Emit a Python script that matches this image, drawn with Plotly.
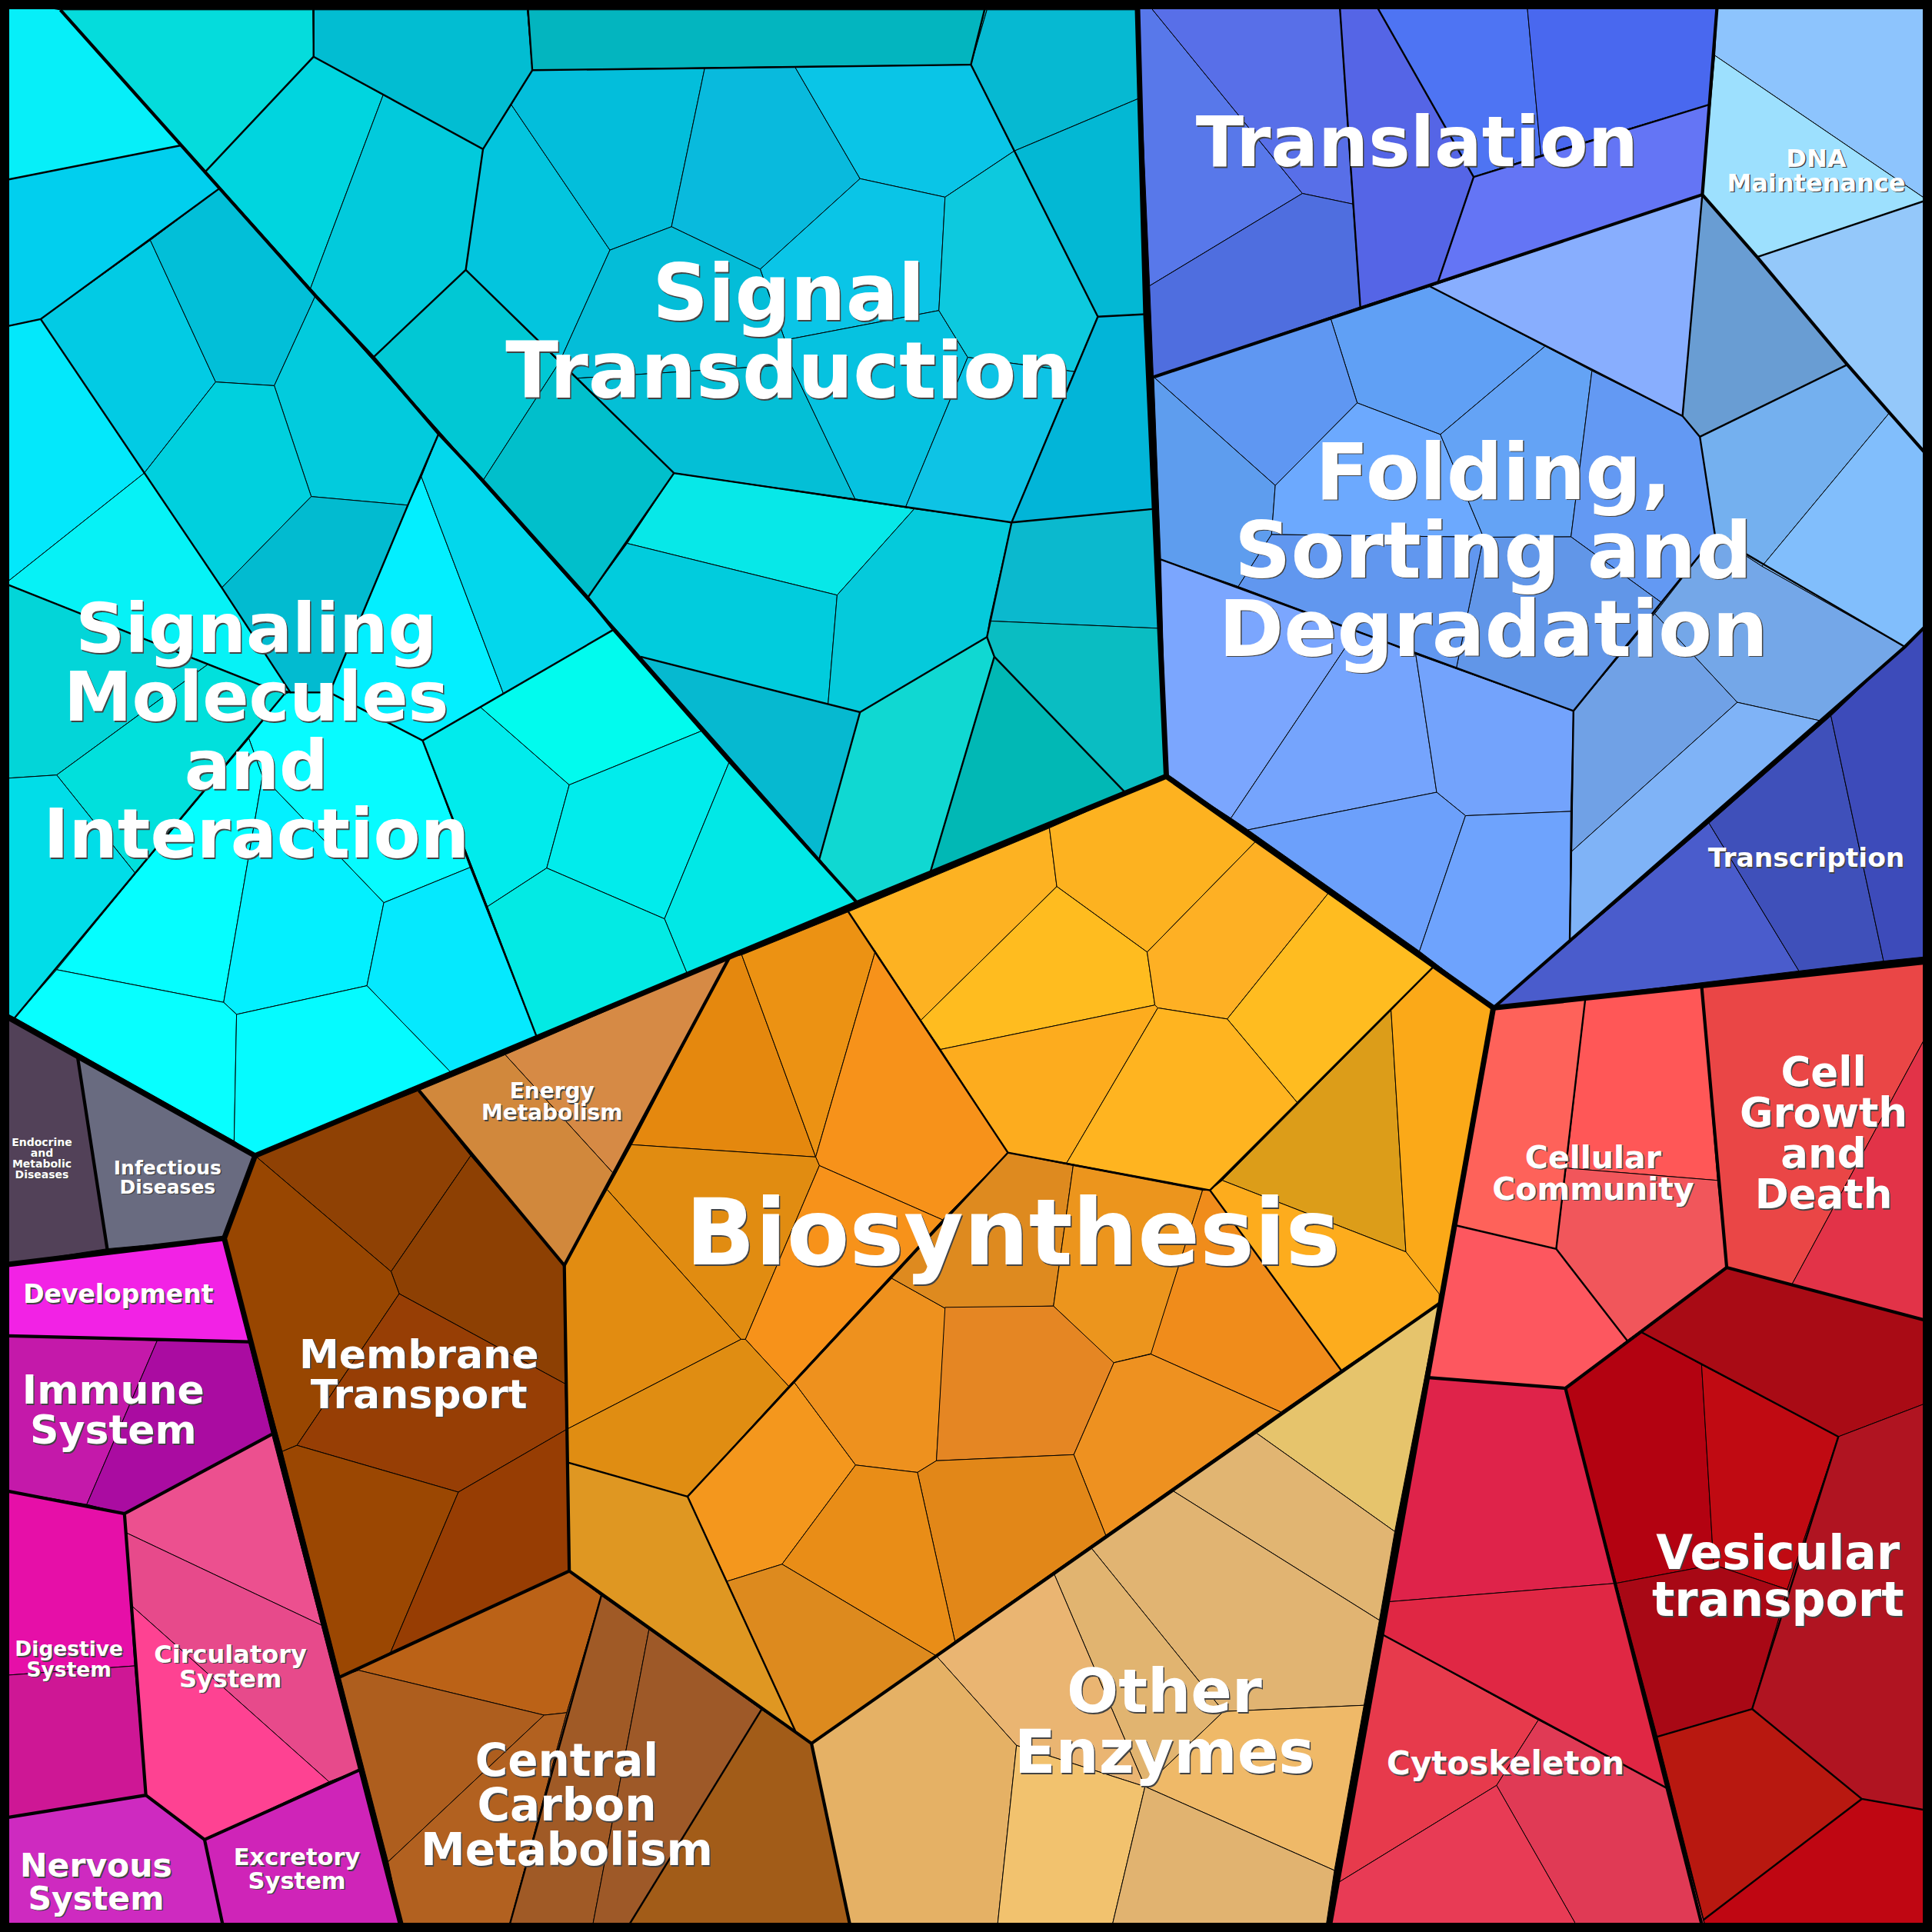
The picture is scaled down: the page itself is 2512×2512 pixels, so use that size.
import plotly.graph_objects as go

# proteomap of KEGG pathways, vertices (display units, 1568 = full width)
SIZE = 1568

signal_cells = [
    [(49,8),(254,8),(254.5,46),(167,139)],
    [(254,8),(428,8),(432,57),(392,121),(311,77),(254.5,46)],
    [(428,8),(801,8),(788,52.5),(432,57)],
    [(801,8),(924,8),(924,80),(823,122.6),(788,52.5)],
    [(823,122.6),(924,80),(930,255),(891,257)],
    [(891,257),(930,255),(937,413),(821,424)],
    [(254.5,46),(311,77),(252,234),(167,139)],
    [(311,77),(392,121),(378,219),(303,290),(252,234)],
    [(392,121),(415,85),(495,203),(454,294),(378,219)],
    [(378,219),(454,294),(392,390),(303,290)],
    [(454,294),(547,384),(477,485),(392,390)],
    [(432,57),(572,55),(545,184),(495,203),(415,85)],
    [(572,55),(645,54),(698,145),(617,218.5),(545,184)],
    [(645,54),(788,52.5),(823,122.6),(767,160),(698,145)],
    [(698,145),(767,160),(762,252),(637,276),(617,218.5)],
    [(495,203),(545,184),(617,218.5),(637,276),(642,296),(468,307),(454,294)],
    [(468,307),(642,296),(694,405),(547,384)],
    [(637,276),(762,252),(785.4,290),(735,411.5),(694,405),(642,296)],
    [(762,252),(767,160),(823,122.6),(891,257),(872,301.6),(785.4,290)],
    [(785.4,290),(872,301.6),(821,424),(735,411.5)],
    [(547,384),(742,413),(679.4,483),(509,441)],
    [(477,485),(509,441),(679.4,483),(672,572),(520,533)],
    [(742,413),(821,424),(801,517),(698,578),(672,572),(679.4,483)],
    [(821,424),(937,413),(942,510),(803,504)],
    [(803,504),(942,510),(947,628),(913,643),(807,533),(801,517)],
    [(698,578),(801,517),(807,533),(755,708),(696,733),(665,697)],
    [(807,533),(913,643),(755,708)],
    [(520,533),(698,578),(665,697)],
]
signal_colors = [
    "#05DCDC","#02BDD2","#03B5BF","#06B9D2","#03B8D4","#02B5D8","#00D5DF","#02CADC","#03C5DE","#01C8D4",
    "#01BFCB","#03BEDB","#09BADD","#0AC5E7","#0AC5E7","#04BDD8","#04BFD6","#06C2E0","#0DC9DE","#0EC3E5",
    "#07E8E8","#01CCDD","#05CADB","#0BB9CE","#0ABDC2","#10D8D2","#01B8B5","#06B9D0",
]

signaling_cells = [
    [(0,0),(49,8),(147,118),(0,147)],
    [(0,147),(147,118),(178,153),(33,259),(0,266)],
    [(33,259),(122,195),(175,310),(117,384)],
    [(122,195),(178,153),(256,240),(222.6,313),(175,310)],
    [(256,240),(356,352),(331,410),(252.6,403),(222.6,313)],
    [(175,310),(222.6,313),(252.6,403),(180,477),(117,384)],
    [(252.6,403),(331,410),(267.5,562),(235.7,562),(180,477)],
    [(0,266),(33,259),(117,384),(0,477)],
    [(0,477),(117,384),(180,477),(235.7,562),(210,555.5),(0,472)],
    [(0,472),(169,539),(46,629),(0,632)],
    [(169,539),(210,555.5),(231,563),(110,709),(46,629)],
    [(0,632),(46,629),(110,709),(46,787),(12,826),(0,820)],
    [(231,563),(235.7,562),(267.5,562),(343,601),(381.5,704),(311.5,732.6),(213,630),(202,599.4)],
    [(202,599.4),(213,630),(181.5,813.5),(46,787),(110,709)],
    [(213,630),(311.5,732.6),(297.8,800),(192,823.3),(181.5,813.5)],
    [(311.5,732.6),(381.5,704),(435.4,841),(365.6,870),(297.8,800)],
    [(46,787),(181.5,813.5),(192,823.3),(190,926),(12,826)],
    [(192,823.3),(297.8,800),(365.6,870),(207,938),(190,926)],
    [(331,410),(342,387),(408.6,563),(343,601),(267.5,562)],
    [(342,387),(356,352),(498,511),(408.6,563)],
    [(343,601),(390,574),(462,637),(443.7,704.5),(395.6,735.8)],
    [(390,574),(498,511),(570,593),(462,637)],
    [(462,637),(570,593),(592,618),(539.3,745.7),(443.7,704.5)],
    [(592,618),(696,733),(557.6,790),(539.3,745.7)],
    [(395.6,735.8),(443.7,704.5),(539.3,745.7),(557.6,790),(435.4,841)],
]
signaling_colors = [
    "#06EFF9","#01CFEE","#02CBE4","#02BFD8","#02CBDD","#00D0DE","#02BBD0","#03E8FB","#06F2F6","#03D5D8",
    "#01E0DC","#01DDE8","#07FBFF","#05FEFF","#03F0FF","#05E9FE","#07FFFF","#05FBFF","#03EFFF","#03D7EC",
    "#01EBEC","#01FBEE","#01ECEC","#01E8E6","#03EAE4",
]

translation_cells = [
    [(923,0),(929,0),(1057,157),(933,232)],
    [(929,0),(1087,0),(1098,165.6),(1057,157)],
    [(933,232),(1057,157),(1098,165.6),(1104,249),(936,306)],
    [(1087,0),(1114.4,0),(1196,143.6),(1167,229),(1104,249)],
    [(1114.4,0),(1239,0),(1250.6,126),(1196,143.6)],
    [(1239,0),(1394,0),(1387,85),(1250.6,126)],
    [(1196,143.6),(1250.6,126),(1387,85),(1381.6,158),(1167,229)],
]
translation_colors = ["#5878EA","#586FE8","#4F6EDF","#5565E6","#4E74F3","#4968EF","#6475F5"]

dna_cells = [
    [(1394,0),(1568,0),(1568,165),(1391.7,45)],
    [(1391.7,45),(1568,165),(1426,208.6),(1381.6,158)],
    [(1568,161),(1568,374),(1533.5,335),(1499.3,296),(1426,208.6)],
]
dna_colors = ["#8DC4FD","#9DE0FE","#94C8FA"]

folding_cells = [
    [(1160.7,232.5),(1381.6,158),(1365.5,337.6),(1292,301),(1254,281)],
    [(1381.6,158),(1426,208.6),(1499.3,296),(1379.6,354.5),(1365.5,337.6)],
    [(1379.6,354.5),(1499.3,296),(1533.5,335),(1430,459.6),(1392,435)],
    [(1533.5,335),(1568,374),(1568,503),(1546,525),(1430,459.6)],
    [(1080,258.6),(1160.7,232.5),(1254,281),(1169,352.6),(1101.5,327)],
    [(936.3,306),(1080,258.6),(1101.5,327),(1035,394)],
    [(936.3,306),(1035,394),(1032,433.8),(1005,476),(942,454)],
    [(1035,394),(1101.5,327),(1169,352.6),(1204,436),(1032,433.8)],
    [(1169,352.6),(1254,281),(1292,301),(1275,435.7),(1204,436)],
    [(1292,301),(1365.5,337.6),(1379.6,354.5),(1392,435),(1349.4,489.7),(1275,435.7)],
    [(1204,436),(1275,435.7),(1349.4,489.7),(1277,577),(1182,542)],
    [(1032,433.8),(1204,436),(1182,542),(1005,476)],
    [(942,454),(1101,512),(999,664),(946.6,630)],
    [(1101,512),(1149,531),(1166,643),(1012.9,673.5),(999,664)],
    [(1149,531),(1277,577),(1274.8,658.5),(1189.4,662),(1166,643)],
    [(1012.9,673.5),(1166,643),(1189.4,662),(1152,772)],
    [(1189.4,662),(1274.8,658.5),(1274,764),(1212,818),(1152,772)],
    [(1343,498),(1410,570),(1275.6,691),(1277,577)],
    [(1392,435),(1430,459.6),(1546,525),(1477.5,585),(1410,570),(1343,498)],
    [(1410,570),(1477.5,585),(1274,764),(1275.6,691)],
]
folding_colors = [
    "#88AEFE","#699DD3","#74B0EF","#81BEFC","#60A0F5","#5F97F2","#5E9DEE","#6CA9FE","#64A3F5","#6399F3",
    "#6196E8","#6197EF","#7BA6FE","#75A4FD","#73A3FC","#6CA0FB","#6EA3FD","#70A1E6","#74A7E8","#7FB3F7",
]

transcription_cells = [
    [(1212,818),(1387,668),(1460,788)],
    [(1387,668),(1486,581),(1528.7,780),(1460,788)],
    [(1486,581),(1568,503),(1568,776),(1528.7,780)],
]
transcription_colors = ["#4A5CCC","#3F50BA","#3D4BBA"]

energy_cells = [
    [(410,856),(592,777),(497.5,952)],
    [(340,885),(410,856),(497.5,952),(458,1027)],
]
energy_colors = ["#D68A45","#D1883C"]

membrane_cells = [
    [(207,938),(340,885),(382,938),(317.4,1032)],
    [(382,938),(458,1027),(458.5,1123),(324,1050),(317.4,1032)],
    [(182,1005),(207,938),(317.4,1032),(324,1050),(241,1173),(229,1178)],
    [(324,1050),(458.5,1123),(460,1160),(372,1211),(241,1173)],
    [(229,1178),(241,1173),(372,1211),(317,1341),(276,1361)],
    [(372,1211),(460,1160),(462,1275),(317,1341)],
]
membrane_colors = ["#8F4104","#8D4003","#984601","#973E05","#9B4702","#973D03"]

carbon_cells = [
    [(276,1361),(462,1275),(488,1295),(460,1390),(441.6,1392),(291,1355.6)],
    [(276,1361),(291,1355.6),(441.6,1392),(315,1511)],
    [(315,1511),(441.6,1392),(460,1390),(412,1568),(327,1568)],
    [(488,1295),(527,1321),(480,1568),(412,1568),(460,1390)],
    [(527,1321),(618,1387.5),(507,1568),(480,1568)],
    [(618,1387.5),(658.6,1415),(691,1568),(507,1568)],
]
carbon_colors = ["#BB6217","#AE5E1E","#B26120","#A05A26","#9E5928","#A25C18"]

biosynthesis_cells = [
    [(688.5,740),(851.7,672),(857.7,719.5),(747.4,828)],
    [(851.7,672),(947,630),(1019,683),(931,772.7),(857.7,719.5)],
    [(857.7,719.5),(931,772.7),(937.3,815.7),(763.4,851.7),(747.4,828)],
    [(931,772.7),(1019,683),(1078,725),(996,827),(939.7,818),(937.3,815.7)],
    [(1078,725),(1163,785),(1053,895),(996,827)],
    [(763.4,851.7),(937.3,815.7),(939.7,818),(865.6,944),(818,935.5)],
    [(939.7,818),(996,827),(1053,895),(982,966),(865.6,944)],
    [(1129,820),(1141,1016),(992,958)],
    [(1163,785),(1212,818),(1168,1058),(1141,1016),(1129,820)],
    [(982,966),(992,958),(1141,1016),(1168,1050),(1168,1058),(1088.4,1112)],
    [(592,777),(602,775),(662,939),(512.6,929)],
    [(602,775),(688.5,740),(710.4,772),(662,939)],
    [(710.4,772),(818,935.5),(765,990),(665,946),(662,939)],
    [(512.6,929),(662,939),(665,946),(605,1087),(601.4,1087),(492.7,965.4)],
    [(665,946),(765,990),(640,1125),(605,1087)],
    [(492.7,965.4),(601.4,1087),(460,1160),(458,1027)],
    [(460,1160),(601.4,1087),(605,1087),(640,1125),(558,1214.6),(461,1187)],
    [(461,1187),(558,1214.6),(645.5,1405),(618,1387.5),(488,1295),(462,1275)],
    [(558,1214.6),(590,1283.4),(634.7,1269.5),(694.4,1189),(644.7,1122)],
    [(644.7,1122),(723.6,1037.4),(767.4,1062),(760,1185.5),(744.6,1195),(694.4,1189)],
    [(723.6,1037.4),(818,935.5),(871,946),(855,1060),(767.4,1062)],
    [(871,946),(976,966),(934.5,1098.6),(903.5,1106),(855,1060)],
    [(976,966),(982,966),(1088.4,1112),(1039.5,1146),(934,1099)],
    [(767,1061),(855,1060),(904,1106),(871.5,1180.6),(760,1185.5)],
    [(904,1106),(934,1099),(1039.5,1146),(897.4,1246),(871.5,1180.6)],
    [(760,1185.5),(871.5,1180.6),(897.4,1246),(775,1332),(744.6,1195)],
    [(694.4,1189),(744.6,1195),(775,1332),(760,1344),(634.7,1269.5)],
    [(590,1283.4),(634.7,1269.5),(760,1344),(658.6,1415),(645.5,1405)],
]
biosynthesis_colors = [
    "#FDB222","#FDB220","#FFBC1F","#FEB024","#FFBC20","#FDAC1E","#FFB420","#DC9D19","#FBA918","#FDAC1D",
    "#E5880E","#EC9213","#F7921A","#E18C11","#F7921A","#E28C11","#E08D12","#DF9722","#F4971D","#EE911E",
    "#DE8A1F","#EC951D","#F08C1B","#E58623","#EE9120","#E28718","#E98D17","#DD8A1E",
]

enzymes_cells = [
    [(1019.6,1163),(1168,1058),(1132,1243)],
    [(952,1210),(1019.6,1163),(1132,1243),(1119.5,1315)],
    [(885.4,1256),(952,1210),(1119.5,1315),(1107,1384),(993,1389)],
    [(855.6,1277.6),(885.4,1256),(993,1389),(929.3,1450)],
    [(760,1344),(855.6,1277.6),(929.3,1450),(825,1416.6)],
    [(658.6,1415),(760,1344),(825,1416.6),(809,1568),(691,1568)],
    [(825,1416.6),(929.3,1450),(901.4,1568),(809,1568)],
    [(993,1389),(1107,1384),(1083,1518),(929.3,1450)],
    [(929.3,1450),(1083,1518),(1075.5,1568),(901.4,1568)],
]
enzymes_colors = ["#E6C46C","#E1B572","#E1B472","#E1B470","#EAB572","#E5B165","#F2C26E","#EFB968","#E1B370"]

community_cells = [
    [(1212,818),(1286.7,810),(1263,1013.6),(1181.6,994.5)],
    [(1286.7,810),(1381,800),(1394,958),(1271,948)],
    [(1271,948),(1394,958),(1401.4,1028.7),(1320.6,1088),(1263,1013.6)],
    [(1181.6,994.5),(1263,1013.6),(1320.6,1088),(1270.5,1126.7),(1159,1118)],
]
community_colors = ["#FE625A","#FF5757","#F1565B","#FD575F"]

growth_cells = [
    [(1381,800),(1568,780),(1568,832),(1454,1043),(1401.4,1028.7)],
    [(1568,832),(1568,1075),(1454,1043)],
]
growth_colors = ["#EA4646","#E23348"]

vesicular_cells = [
    [(1332.6,1081.4),(1401.4,1028.7),(1568,1073),(1568,1137),(1492,1166)],
    [(1270.5,1126.7),(1332.6,1081.4),(1381,1107.6),(1390.8,1270),(1311.6,1285)],
    [(1381,1107.6),(1492,1166),(1450.6,1290),(1390.8,1270)],
    [(1492,1166),(1568,1137),(1568,1470),(1511,1460),(1422,1387),(1450.6,1290)],
    [(1311.6,1285),(1390.8,1270),(1450.6,1290),(1422,1387),(1345,1409.5)],
    [(1345,1409.5),(1422,1387),(1511,1460),(1382.7,1558)],
    [(1382.7,1558),(1511,1460),(1568,1470),(1568,1568),(1385,1568)],
]
vesicular_colors = ["#A90B15","#B30211","#C00A12","#B01421","#A80815","#B81810","#BF0612"]

cytoskeleton_cells = [
    [(1159,1118),(1270.5,1126.7),(1311.6,1285),(1126.6,1300)],
    [(1126.6,1300),(1311.6,1285),(1353.6,1451.7),(1122,1326.6)],
    [(1122,1326.6),(1248.5,1396),(1214.6,1449),(1085,1528.6)],
    [(1248.5,1396),(1353.6,1451.7),(1385,1568),(1282.5,1568),(1214.6,1449)],
    [(1085,1528.6),(1214.6,1449),(1282.5,1568),(1078,1568)],
]
cytoskeleton_colors = ["#DF234A","#E02744","#E73A4C","#E03A55","#E83B55"]

organismal_cells = [
    [(0,1028),(182,1006),(202,1089),(0,1084)],
    [(0,1084),(127.6,1088),(70.4,1221),(0,1209)],
    [(127.6,1088),(202,1089),(220.6,1164),(101,1228.5),(70.4,1221)],
    [(0,1209),(101,1228.5),(109.3,1352),(0,1360)],
    [(0,1360),(109.3,1352),(118.4,1457),(0,1476)],
    [(101,1228.5),(220.6,1164),(261,1319),(102.5,1244)],
    [(102.5,1244),(261,1319),(291.7,1436.5),(267,1446),(106.6,1303)],
    [(106.6,1303),(267,1446),(166,1493),(118.4,1457)],
    [(0,1476),(118.4,1457),(166,1493),(182,1568),(0,1568)],
    [(166,1493),(291.7,1436.5),(327,1568),(182,1568)],
]
organismal_colors = ["#F222E5","#C419AA","#AA0CA1","#E60FA8","#CE1795","#EC508F","#E74A8B","#FE4292","#CE2AC0","#CF24B8"]

disease_cells = [
    [(0,822),(63,858),(87,1013.5),(0,1027)],
    [(63,858),(207,938),(182,1005),(87,1013.5)],
]
disease_colors = ["#524158","#696B80"]

# borders between groups, heaviest first
level1_borders = [
    [(0,822),(207,938),(696,733),(946.6,630),(937,413),(930,255),(923,0)],
    [(946.6,630),(1212,818),(1568,780)],
    [(1212,818),(1078,1568)],
    [(207,938),(182,1005),(327,1568)],
    [(182,1005),(0,1027)],
]
level2_borders = [
    [(49,8),(147,118),(178,153),(256,240),(303,290),(356,352),(392,390),(477,485),(498,511),(592,618),(696,733)],
    [(936.3,306),(1381.6,158)],
    [(1394,0),(1381.6,158),(1426,208.6),(1499.3,296),(1533.5,335),(1568,374)],
    [(1212,818),(1546,525),(1568,503)],
    [(340,885),(458,1027),(592,777)],
    [(458,1027),(462,1275),(276,1361)],
    [(462,1275),(658.6,1415),(691,1568)],
    [(658.6,1415),(1168,1058)],
    [(1159,1118),(1270.5,1126.7),(1401.4,1028.7),(1381,800)],
    [(1401.4,1028.7),(1568,1073)],
    [(1270.5,1126.7),(1382.7,1568)],
    [(63,858),(87,1013.5)],
    [(0,1084),(202,1089)],
    [(0,1209),(101,1228.5),(220.6,1164)],
    [(101,1228.5),(118.4,1457),(0,1476)],
    [(118.4,1457),(166,1493),(291.7,1436.5)],
    [(166,1493),(182,1568)],
]
level3_borders = [
    [(254.5,0),(254.5,46),(167,139)],
    [(254.5,46),(392,121),(378,219),(303,290)],
    [(428,0),(432,57),(392,121)],
    [(432,57),(788,52.5)],
    [(801,0),(788,52.5),(891,257),(821,424),(937,413)],
    [(891,257),(930,255)],
    [(378,219),(547,384),(821,424)],
    [(547,384),(477,485)],
    [(821,424),(801,517),(698,578),(520,533)],
    [(698,578),(665,697)],
    [(801,517),(807,533),(755,708)],
    [(807,533),(913,643)],
    [(0,147),(147,118)],
    [(0,266),(33,259),(178,153)],
    [(33,259),(117,384),(180,477),(235.7,562),(267.5,562),(331,410),(356,352)],
    [(0,472),(210,555.5),(235.7,562)],
    [(231,563),(12,826)],
    [(267.5,562),(343,601),(498,511)],
    [(343,601),(435.4,841)],
    [(1087,0),(1104,249)],
    [(1114.4,0),(1196,143.6),(1167,229)],
    [(1196,143.6),(1387,85)],
    [(1568,161),(1426,208.6)],
    [(942,454),(1277,577),(1274,764)],
    [(1160.7,232.5),(1365.5,337.6),(1379.6,354.5),(1392,435),(1277,577)],
    [(1381.6,158),(1365.5,337.6)],
    [(1379.6,354.5),(1499.3,296)],
    [(1392,435),(1546,525)],
    [(688.5,740),(818,935.5),(982,966),(1088.4,1112)],
    [(818,935.5),(558,1214.6),(645.5,1405)],
    [(461,1187),(558,1214.6)],
    [(982,966),(1163,785)],
    [(488,1295),(412,1568)],
    [(618,1387.5),(507,1568)],
    [(1181.6,994.5),(1263,1013.6),(1320.6,1088)],
    [(1286.7,810),(1263,1013.6)],
    [(1332.6,1081.4),(1492,1166),(1422,1387),(1345,1409.5)],
    [(1422,1387),(1511,1460),(1568,1470)],
    [(1511,1460),(1382.7,1558)],
    [(1122,1326.6),(1353.6,1451.7)],
]

label_texts = [
    "Signal\nTransduction","Signaling\nMolecules\nand\nInteraction","Translation","Folding,\nSorting and\nDegradation",
    "Biosynthesis","Membrane\nTransport","Energy\nMetabolism","Central\nCarbon\nMetabolism","Other\nEnzymes",
    "Cellular\nCommunity","Cell\nGrowth\nand\nDeath","Vesicular\ntransport","Cytoskeleton","Transcription",
    "DNA\nMaintenance","Development","Immune\nSystem","Digestive\nSystem","Circulatory\nSystem","Nervous\nSystem",
    "Excretory\nSystem","Endocrine\nand\nMetabolic\nDiseases","Infectious\nDiseases",
]
label_x = [640,208,1150,1212,822,340,448,460,945,1293,1480,1443,1222,1466,1474,96,92,56,187,78,241,34,136]
label_y = [240,512,117,385,1003,1100,886,1430,1374,940,871,1261,1432,697,129,1051,1129,1339,1343,1515,1508,927,948]
label_sizes = [101,89,91.5,102,119,52,28,58,79,41,53,61.5,42,34.5,32,33,52,26.5,32,42.5,30.5,14,25]

groups = [
    (signal_cells, signal_colors),(signaling_cells, signaling_colors),(translation_cells, translation_colors),
    (dna_cells, dna_colors),(folding_cells, folding_colors),(transcription_cells, transcription_colors),
    (energy_cells, energy_colors),(membrane_cells, membrane_colors),(carbon_cells, carbon_colors),
    (biosynthesis_cells, biosynthesis_colors),(enzymes_cells, enzymes_colors),(community_cells, community_colors),
    (growth_cells, growth_colors),(vesicular_cells, vesicular_colors),(cytoskeleton_cells, cytoskeleton_colors),
    (organismal_cells, organismal_colors),(disease_cells, disease_colors),
]

fig = go.Figure()

for cells, colors in groups:
    for poly, color in zip(cells, colors):
        fig.add_trace(go.Scatter(
            x=[p[0] for p in poly] + [poly[0][0]],
            y=[p[1] for p in poly] + [poly[0][1]],
            mode="lines", fill="toself", fillcolor=color,
            line=dict(color="black", width=1), hoverinfo="skip",
        ))

for borders, width in [(level3_borders, 2.4), (level2_borders, 4.2), (level1_borders, 7)]:
    for path in borders:
        fig.add_trace(go.Scatter(
            x=[p[0] for p in path], y=[p[1] for p in path],
            mode="lines", line=dict(color="black", width=width), hoverinfo="skip",
        ))

# one point per text line, the lines sit about 1 em apart
line_x, line_y, line_text, line_size = [], [], [], []
for text, x, y, size in zip(label_texts, label_x, label_y, label_sizes):
    for i, part in enumerate(text.split("\n")):
        line_x.append(x)
        line_y.append(y + (i + 0.065) * size * SIZE / 2512)
        line_text.append(part)
        line_size.append(size)

fig.add_trace(go.Scatter(
    x=line_x, y=line_y, text=line_text, mode="text", textposition="middle center",
    textfont=dict(family="DejaVu Sans", size=line_size, color="white", weight="bold",
                  shadow="1.5px 1.5px 0px #444"),
    hoverinfo="skip",
))

fig.update_layout(
    width=2512, height=2512, margin=dict(t=0, l=0, r=0, b=0),
    showlegend=False, plot_bgcolor="black", paper_bgcolor="black",
    xaxis=dict(range=[0, SIZE], visible=False, fixedrange=True),
    yaxis=dict(range=[SIZE, 0], visible=False, fixedrange=True),
    shapes=[dict(type="rect", xref="x", yref="y", x0=0, y0=0, x1=SIZE, y1=SIZE,
                 line=dict(color="black", width=24), fillcolor="rgba(0,0,0,0)", layer="above")],
)

fig.write_html("out.html", config=dict(displayModeBar=False),
               post_script="document.body.style.margin='0';")
